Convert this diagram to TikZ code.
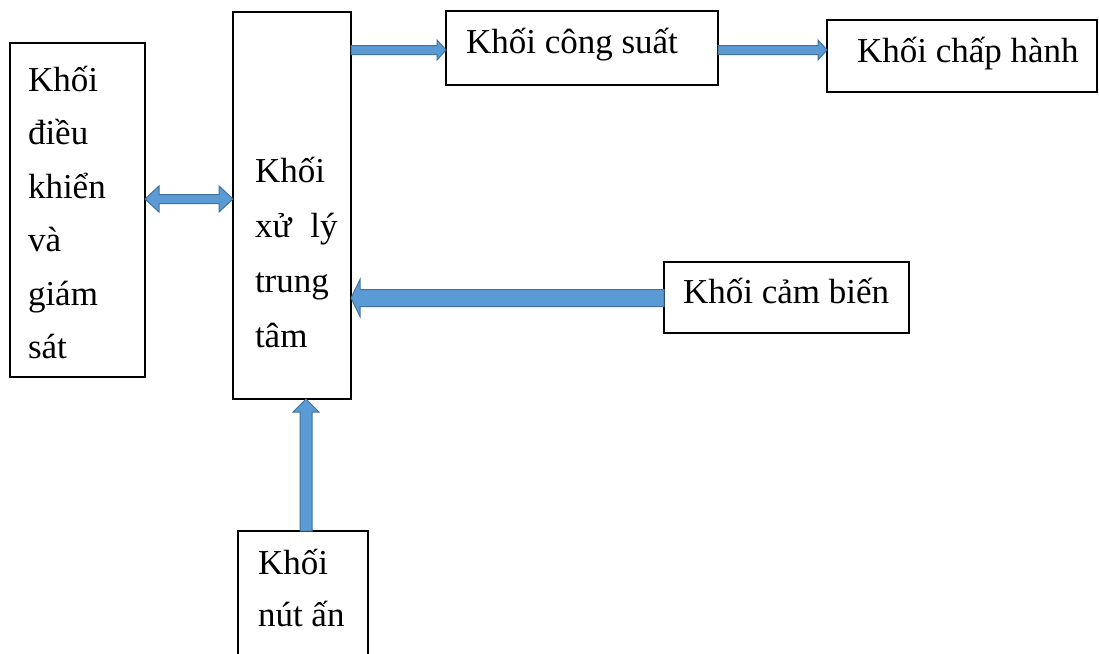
\documentclass[tikz,border=0pt]{standalone}
\usepackage{fontspec}
\setmainfont{Liberation Serif}
\usetikzlibrary{calc}

\definecolor{arrowfill}{HTML}{5B9BD5}
\definecolor{arrowedge}{HTML}{41719C}

\tikzset{
  blk/.style={draw=black, line width=1.5pt, fill=white, rectangle, anchor=north west,
              inner sep=0pt, outer sep=0pt},
  lbl/.style={anchor=base west, inner sep=0pt, outer sep=0pt,
              font=\fontsize{35}{42}\selectfont},
  flow/.style={fill=arrowfill, draw=arrowedge, line width=1pt, line join=miter},
}

% block arrow from #1 to tip #2; stem half width #3, head half width #4, head length #5
\newcommand{\blockarrow}[5]{%
  \coordinate (hb) at ($(#2)!#5!(#1)$);
  \draw[flow] ($(#1)!#3!90:(#2)$) -- ($(hb)!#3!90:(#2)$) -- ($(hb)!#4!90:(#2)$) -- (#2)
    -- ($(hb)!#4!-90:(#2)$) -- ($(hb)!#3!-90:(#2)$) -- ($(#1)!#3!-90:(#2)$) -- cycle;
}
% block arrow with heads at both ends
\newcommand{\doubleblockarrow}[5]{%
  \coordinate (hba) at ($(#1)!#5!(#2)$);
  \coordinate (hbb) at ($(#2)!#5!(#1)$);
  \draw[flow] (#1) -- ($(hba)!#4!90:(#2)$) -- ($(hba)!#3!90:(#2)$)
    -- ($(hbb)!#3!-90:(#1)$) -- ($(hbb)!#4!-90:(#1)$) -- (#2)
    -- ($(hbb)!#4!90:(#1)$) -- ($(hbb)!#3!90:(#1)$)
    -- ($(hba)!#3!-90:(#2)$) -- ($(hba)!#4!-90:(#2)$) -- cycle;
}

\begin{document}
\begin{tikzpicture}[x=1pt, y=-1pt]
  \clip (0,0) rectangle (1099,653);
  \fill[white] (0,0) rectangle (1099,653);

  % blocks
  \node[blk, minimum width=135pt, minimum height=334pt] (A) at (10,43) {};
  \node[blk, minimum width=118pt, minimum height=387pt] (B) at (233,12) {};
  \node[blk, minimum width=272pt, minimum height=74pt]  (C) at (446,11) {};
  \node[blk, minimum width=270pt, minimum height=72pt]  (D) at (827,20) {};
  \node[blk, minimum width=245pt, minimum height=71pt]  (E) at (664,262) {};
  \node[blk, minimum width=130pt, minimum height=150pt] (F) at (238,531) {};

  % texts
  \node[lbl] (a1) at (28,91)  {Khối};
  \node[lbl] (a2) at (28,144) {điều};
  \node[lbl] (a3) at (28,198) {khiển};
  \node[lbl] (a4) at (28,251) {và};
  \node[lbl] (a5) at (28,305) {giám};
  \node[lbl] (a6) at (28,358) {sát};

  \node[lbl] (b1) at (255,182) {Khối};
  \node[lbl] (b2) at (255,237) {xử\hspace{19pt}lý};
  \node[lbl] (b3) at (255,292) {trung};
  \node[lbl] (b4) at (255,347) {tâm};

  \node[lbl] (c1) at (466,53)  {Khối công suất};
  \node[lbl] (d1) at (857,62)  {Khối chấp hành};
  \node[lbl] (e1) at (683,303) {Khối cảm biến};
  \node[lbl] (f1) at (258,574) {Khối};
  \node[lbl] (f2) at (258,626) {nút ấn};

  % connector end points on the block borders
  \coordinate (ab1) at (A.east |- 0,199);
  \coordinate (ab2) at (B.west |- 0,199);
  \coordinate (bc1) at (B.east |- 0,50);
  \coordinate (bc2) at (C.west |- 0,50);
  \coordinate (cd1) at (C.east |- 0,50);
  \coordinate (cd2) at (D.west |- 0,50);
  \coordinate (eb1) at (E.west |- 0,298);
  \coordinate (eb2) at (B.east |- 0,298);
  \coordinate (fb1) at (F.north -| 306,0);
  \coordinate (fb2) at (B.south -| 306,0);

  % connectors
  \doubleblockarrow{ab1}{ab2}{4.5pt}{13pt}{14pt}
  \blockarrow{bc1}{bc2}{4.5pt}{10pt}{9pt}
  \blockarrow{cd1}{cd2}{4.5pt}{10pt}{9pt}
  \blockarrow{eb1}{eb2}{8.5pt}{18.5pt}{9pt}
  \blockarrow{fb1}{fb2}{6pt}{13pt}{13pt}
\end{tikzpicture}
\end{document}
